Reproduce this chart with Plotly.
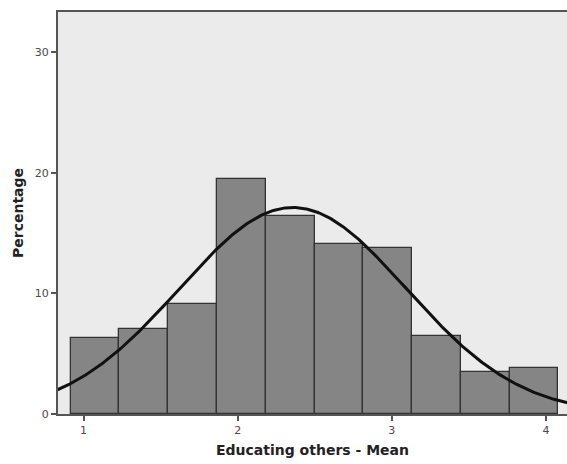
import numpy as np
import plotly.graph_objects as go

# Histogram of "Educating others - Mean" (percent of cases per bin)
bin_start = 0.916
bin_width = 0.3165
percentages = [6.31, 7.06, 9.13, 19.49, 16.39, 14.13, 13.80, 6.45, 3.46, 3.83]

# Normal curve parameters for the fitted overlay
mean_value = 2.358
std_value = 0.737

x_ticks = [1, 2, 3, 4]
y_ticks = [0, 10, 20, 30]

centers = [bin_start + bin_width * (i + 0.5) for i in range(len(percentages))]

xs = np.linspace(0.80, 4.20, 400)
curve = 100 * bin_width * np.exp(-0.5 * ((xs - mean_value) / std_value) ** 2) / (std_value * np.sqrt(2 * np.pi))

fig = go.Figure()
fig.add_trace(go.Bar(
    x=centers, y=percentages, width=[bin_width] * len(percentages),
    marker=dict(color="#858585", line=dict(color="#333333", width=1.3)),
    hoverinfo="skip",
))
fig.add_trace(go.Scatter(
    x=xs, y=curve, mode="lines",
    line=dict(color="#111111", width=3),
    hoverinfo="skip",
))

axis_common = dict(
    showline=True, linecolor="#555555", linewidth=2,
    ticks="outside", ticklen=5, tickwidth=2, tickcolor="#555555",
    showgrid=False, zeroline=False,
    tickfont=dict(family="DejaVu Sans", size=11, color="#4a4a4a"),
)

fig.update_layout(
    width=567, height=464,
    margin=dict(l=58, r=0, t=12, b=50),
    paper_bgcolor="white", plot_bgcolor="#EBEBEB",
    showlegend=False, bargap=0,
    xaxis=dict(
        range=[0.834, 4.137], tickvals=x_ticks, mirror=True,
        title=dict(text="<b>Educating others - Mean</b>", standoff=9,
                   font=dict(family="DejaVu Sans", size=14, color="#222222")),
        **axis_common,
    ),
    yaxis=dict(
        range=[0, 33.35], tickvals=y_ticks,
        title=dict(text="<b>Percentage</b>", standoff=8,
                   font=dict(family="DejaVu Sans", size=14, color="#222222")),
        **axis_common,
    ),
)

fig.write_html("out.html")
